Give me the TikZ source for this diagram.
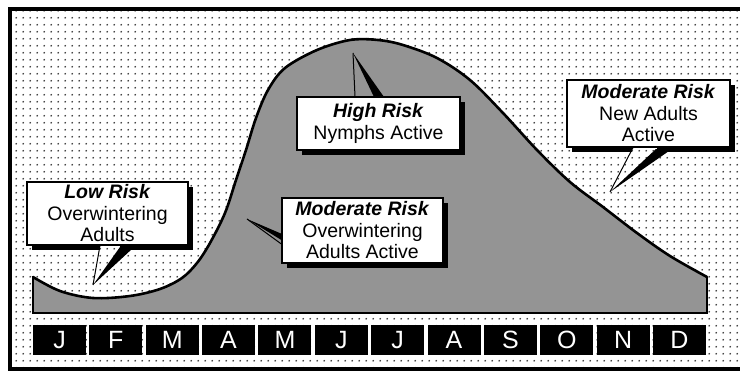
\documentclass[tikz,border=0pt]{standalone}
\usepackage{fontspec}
\setmainfont{Liberation Sans}
\usetikzlibrary{patterns.meta}
\tikzdeclarepattern{
  name=bgdots,
  type=uncolored,
  bounding box={(0pt,0pt) and (6.67pt,6.67pt)},
  tile size={(6.67pt,6.67pt)},
  code={\fill (3.33pt,3.33pt) circle (0.95pt);}
}
\tikzset{
  callbox/.style={draw=black, line width=1.3pt, fill=white, inner sep=0pt, align=center,
    font=\fontsize{19.5}{21.5}\selectfont},
  monthbox/.style={fill=black, text=white, minimum width=53pt, minimum height=30pt,
    inner sep=0pt, font=\fontsize{25}{25}\selectfont},
  thinedge/.style={draw=black, line width=1pt},
  shadowfill/.style={fill=black},
}
\newcommand{\rtitle}[1]{\textbf{\textit{#1}}}
\begin{document}
\begin{tikzpicture}[x=1pt,y=-1pt]
\useasboundingbox (0,0) rectangle (740,371);
\clip (0,0) rectangle (740,371);
\fill[white] (0,0) rectangle (740,371);
% dotted background and frame
\fill[pattern=bgdots, pattern color=black!80] (12,11) rectangle (740,368);
\draw[line width=4pt] (10,9) rectangle (760,369.5);

% risk area under the curve
\fill[black!42] (33,313) -- plot[smooth,tension=0.55] coordinates {
 (33,277) (60,291) (93,298) (130,296) (160,289) (182,278) (197,263) (210,243)
 (225,213) (236,180) (246,150) (256,118) (268,90) (285,68) (317,50) (350,40)
 (378,40) (403,45) (437,58) (470,80) (503,113) (537,150) (570,182) (603,207)
 (637,233) (670,256) (707,277)} -- (707,313) -- cycle;
\draw[line width=2.6pt, line cap=round, line join=round] plot[smooth,tension=0.55] coordinates {
 (33,277) (60,291) (93,298) (130,296) (160,289) (182,278) (197,263) (210,243)
 (225,213) (236,180) (246,150) (256,118) (268,90) (285,68) (317,50) (350,40)
 (378,40) (403,45) (437,58) (470,80) (503,113) (537,150) (570,182) (603,207)
 (637,233) (670,256) (707,277)};
\draw[line width=1.6pt] (33,277) -- (33,313) -- (707,313) -- (707,277);

% months
\foreach \m [count=\i from 0] in {J,F,M,A,M,J,J,A,S,O,N,D}
  \node[monthbox] (m\i) at ({59.5+\i*56.36},340) {\m};

% ---- Low Risk callout
\coordinate (lowtip) at (93,285);
\fill[shadowfill] (188,187) rectangle (193,250);
\fill[shadowfill] (32,245) rectangle (100,250);
\fill[shadowfill] (120,245) rectangle (193,250);
\fill[shadowfill] (lowtip) -- (120,247) -- (132,249) -- cycle;
\node[callbox, minimum width=161pt, minimum height=63pt] (low) at (107.5,213.5)
  {\rtitle{Low Risk}\\Overwintering\\Adults};
\draw[thinedge] ([xshift=-7.5pt]low.south) -- (lowtip);

% ---- Moderate Risk (overwintering adults active) callout
\coordinate (modatip) at (247,219);
\fill[shadowfill] (443,203) rectangle (448,268);
\fill[shadowfill] (287,263) rectangle (448,268);
\fill[shadowfill] (modatip) -- (282,234) -- (283,241) -- cycle;
\node[callbox, minimum width=161pt, minimum height=65pt] (moda) at (362.5,230.5)
  {\rtitle{Moderate Risk}\\Overwintering\\Adults Active};
\draw[thinedge] ([yshift=-13.5pt]moda.west) -- (modatip);

% ---- High Risk callout
\coordinate (hightip) at (353,53);
\fill[shadowfill] (460,102) rectangle (465,155);
\fill[shadowfill] (302,150) rectangle (465,155);
\fill[shadowfill] (hightip) -- (374,97) -- (384,97) -- cycle;
\node[callbox, minimum width=163pt, minimum height=53pt] (high) at (378.5,123.5)
  {\rtitle{High Risk}\\Nymphs Active};
\draw[thinedge] ([xshift=-23.5pt]high.north) -- (hightip);

% ---- Moderate Risk (new adults active) callout
\coordinate (modbtip) at (610,192);
\fill[shadowfill] (730,85) rectangle (735,152);
\fill[shadowfill] (572,147) rectangle (632,152);
\fill[shadowfill] (657,147) rectangle (735,152);
\fill[shadowfill] (modbtip) -- (656,149) -- (669,151) -- cycle;
\node[callbox, minimum width=163pt, minimum height=67pt] (modb) at (648.5,113.5)
  {\rtitle{Moderate Risk}\\New Adults\\Active};
\draw[thinedge] ([xshift=-15.5pt]modb.south) -- (modbtip);
\end{tikzpicture}
\end{document}
